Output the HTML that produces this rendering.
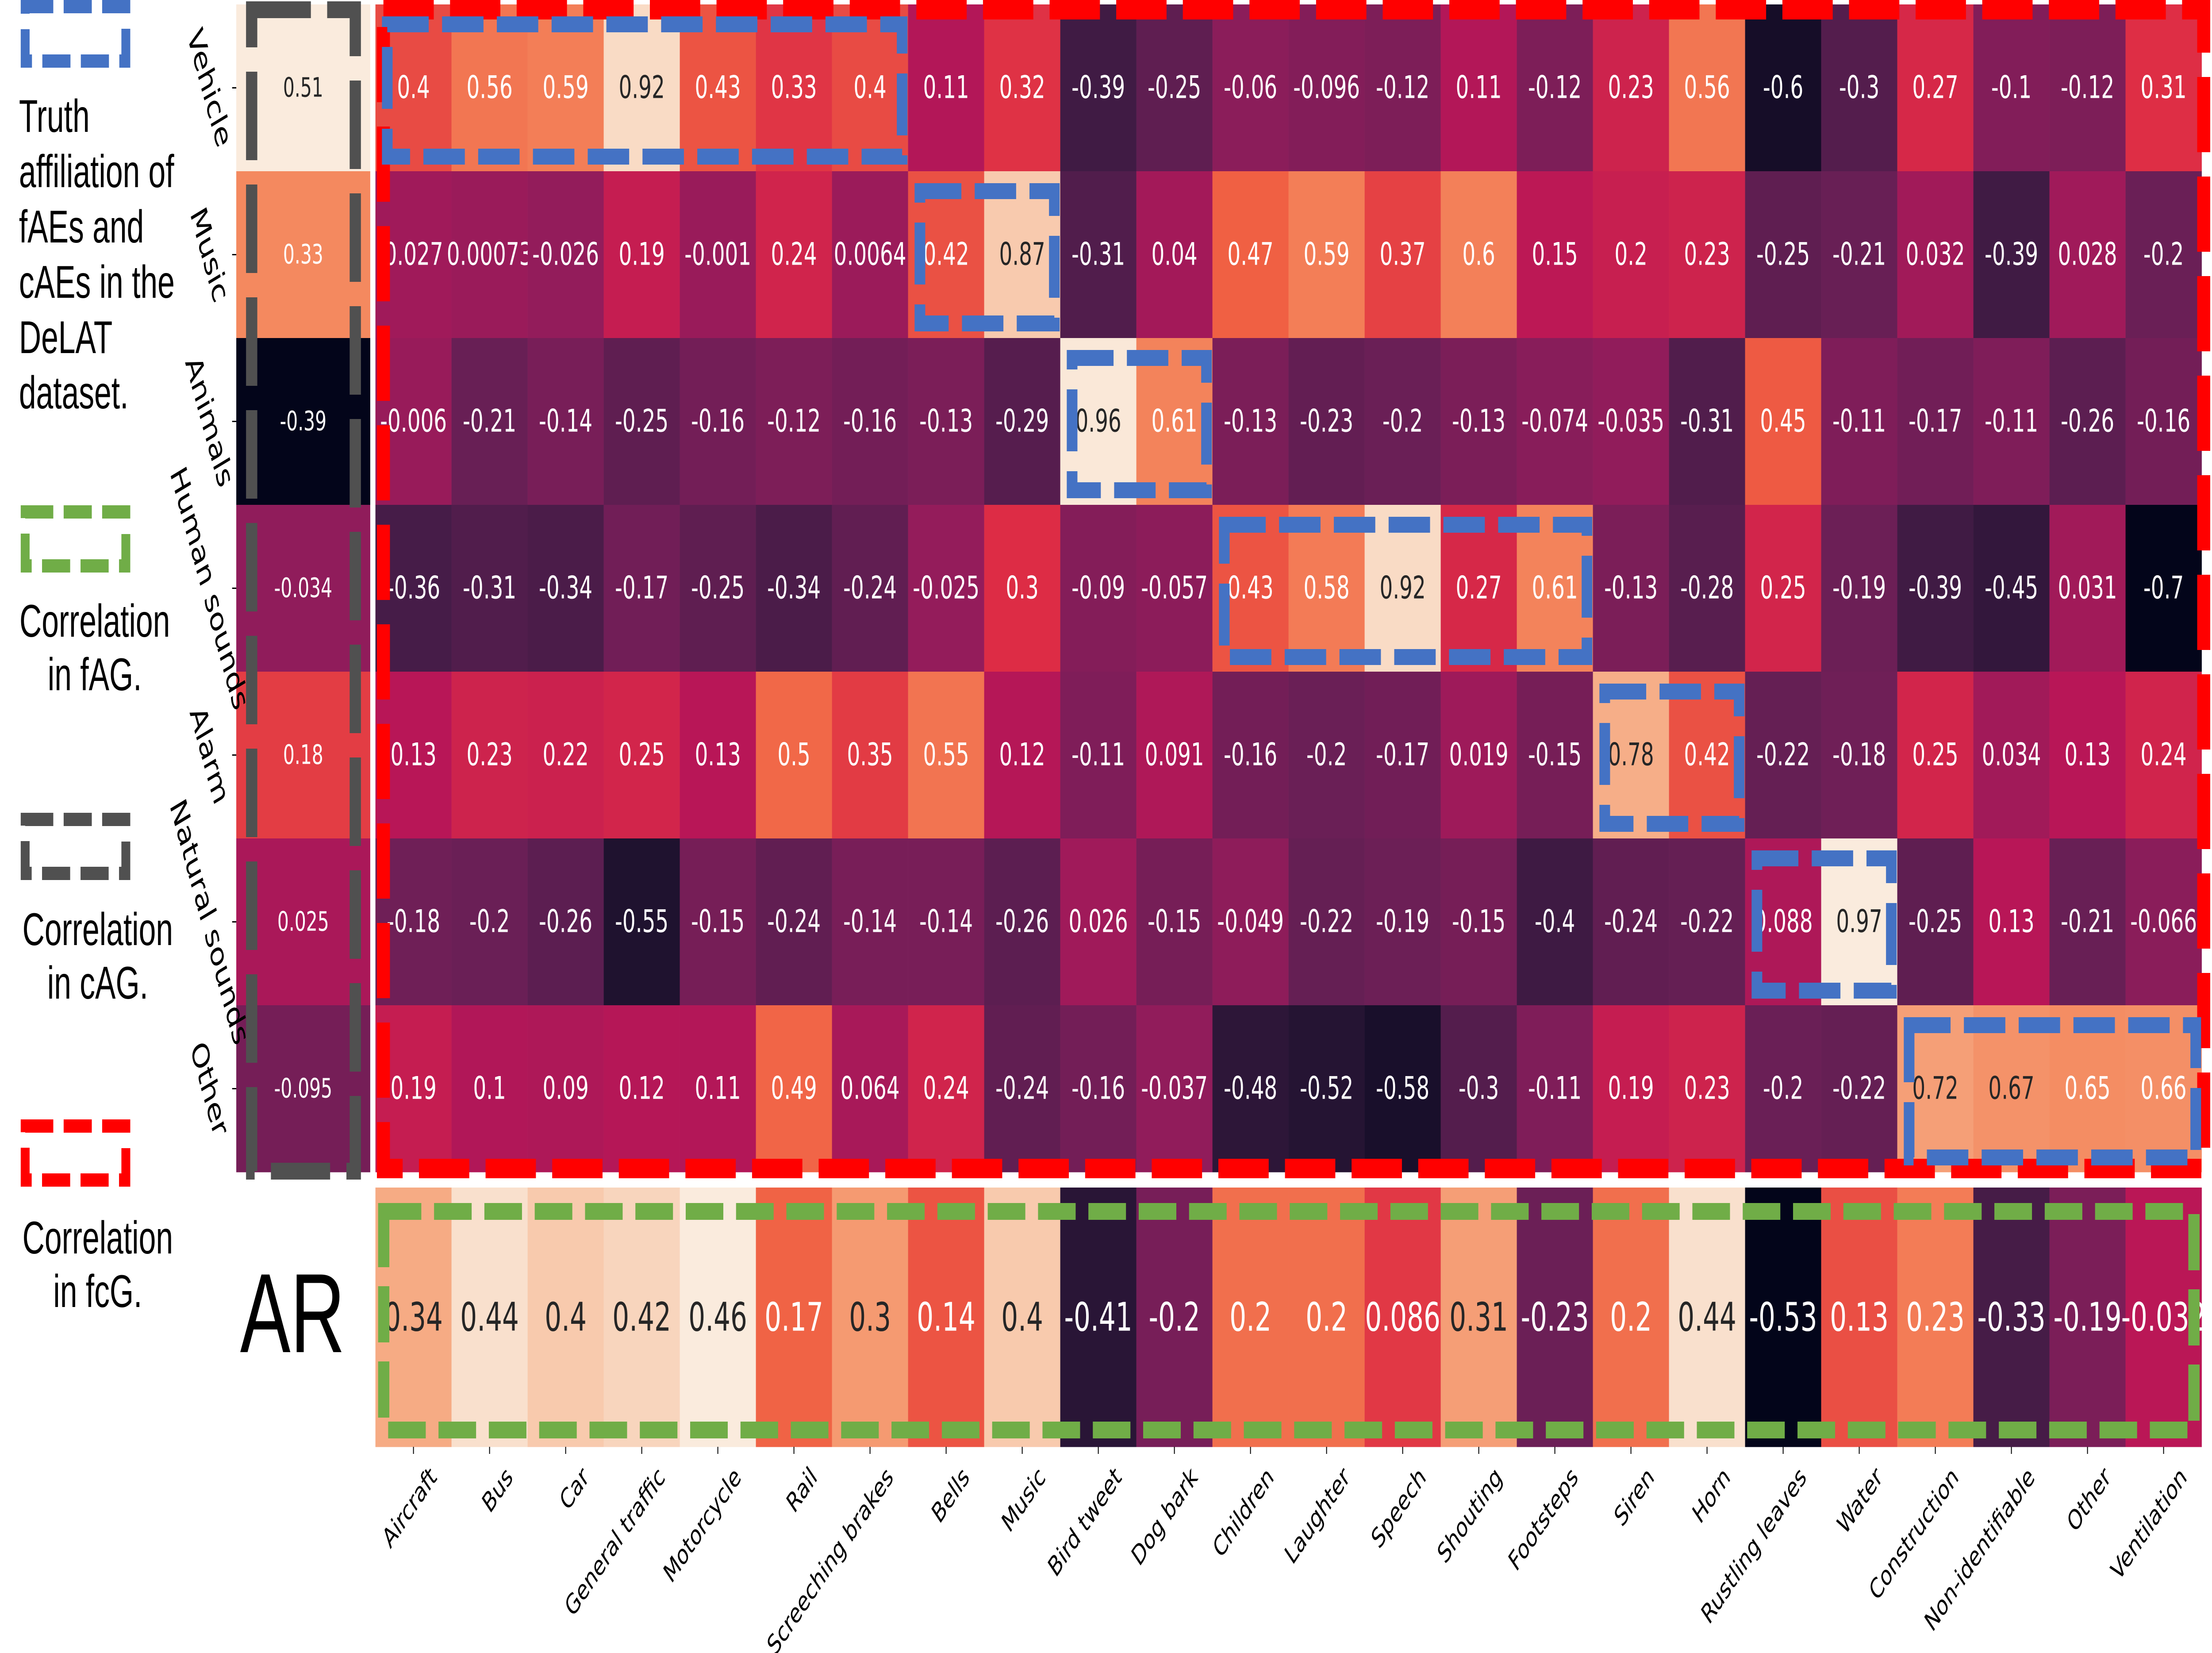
<!DOCTYPE html>
<html><head><meta charset="utf-8"><style>
html,body{margin:0;padding:0;background:#fff;width:100%;height:100%;overflow:hidden;}
svg{display:block;width:100vw;height:100vh;}
</style></head><body>
<svg id="chart" xmlns="http://www.w3.org/2000/svg" viewBox="0 0 7471 3736" preserveAspectRatio="none">
<rect x="0" y="0" width="7471" height="3736" fill="#fff"/>
<g id="cells"></g>
<g id="labels"></g>
<g id="overlays"></g>
<g id="legend" font-family="Liberation Sans, Arial, sans-serif" fill="#000">
  <rect x="85" y="15" width="340" height="123" fill="none" stroke="#4472C4" stroke-width="30" stroke-dasharray="95 35"/>
  <text font-size="104">
    <tspan x="64" y="298">Truth</tspan><tspan x="64" y="423">affiliation of</tspan><tspan x="64" y="548">fAEs and</tspan><tspan x="64" y="673">cAEs in the</tspan><tspan x="64" y="798">DeLAT</tspan><tspan x="64" y="923">dataset.</tspan>
  </text>
  <rect x="85" y="1157" width="340" height="122" fill="none" stroke="#70AD47" stroke-width="30" stroke-dasharray="95 35"/>
  <text font-size="104" text-anchor="middle"><tspan x="320" y="1439">Correlation</tspan><tspan x="320" y="1560">in fAG.</tspan></text>
  <rect x="85" y="1852" width="340" height="122" fill="none" stroke="#505050" stroke-width="30" stroke-dasharray="95 35"/>
  <text font-size="104" text-anchor="middle"><tspan x="330" y="2136">Correlation</tspan><tspan x="330" y="2257">in cAG.</tspan></text>
  <rect x="85" y="2545" width="340" height="122" fill="none" stroke="#FF0000" stroke-width="30" stroke-dasharray="95 35"/>
  <text font-size="104" text-anchor="middle"><tspan x="330" y="2833">Correlation</tspan><tspan x="330" y="2954">in fcG.</tspan></text>
  <text x="811" y="3056" font-size="255">AR</text>
</g>
</svg>
<script>
const rowLabels = ["Vehicle","Music","Animals","Human sounds","Alarm","Natural sounds","Other"];
const colLabels = ["Aircraft","Bus","Car","General traffic","Motorcycle","Rail","Screeching brakes","Bells","Music","Bird tweet","Dog bark","Children","Laughter","Speech","Shouting","Footsteps","Siren","Horn","Rustling leaves","Water","Construction","Non-identifiable","Other","Ventilation"];
const rowVehicle = [0.4,0.56,0.59,0.92,0.43,0.33,0.4,0.11,0.32,-0.39,-0.25,-0.06,-0.096,-0.12,0.11,-0.12,0.23,0.56,-0.6,-0.3,0.27,-0.1,-0.12,0.31];
const rowMusic = [0.027,0.00073,-0.026,0.19,-0.001,0.24,0.0064,0.42,0.87,-0.31,0.04,0.47,0.59,0.37,0.6,0.15,0.2,0.23,-0.25,-0.21,0.032,-0.39,0.028,-0.2];
const rowAnimals = [-0.006,-0.21,-0.14,-0.25,-0.16,-0.12,-0.16,-0.13,-0.29,0.96,0.61,-0.13,-0.23,-0.2,-0.13,-0.074,-0.035,-0.31,0.45,-0.11,-0.17,-0.11,-0.26,-0.16];
const rowHuman = [-0.36,-0.31,-0.34,-0.17,-0.25,-0.34,-0.24,-0.025,0.3,-0.09,-0.057,0.43,0.58,0.92,0.27,0.61,-0.13,-0.28,0.25,-0.19,-0.39,-0.45,0.031,-0.7];
const rowAlarm = [0.13,0.23,0.22,0.25,0.13,0.5,0.35,0.55,0.12,-0.11,0.091,-0.16,-0.2,-0.17,0.019,-0.15,0.78,0.42,-0.22,-0.18,0.25,0.034,0.13,0.24];
const rowNatural = [-0.18,-0.2,-0.26,-0.55,-0.15,-0.24,-0.14,-0.14,-0.26,0.026,-0.15,-0.049,-0.22,-0.19,-0.15,-0.4,-0.24,-0.22,0.088,0.97,-0.25,0.13,-0.21,-0.066];
const rowOther = [0.19,0.1,0.09,0.12,0.11,0.49,0.064,0.24,-0.24,-0.16,-0.037,-0.48,-0.52,-0.58,-0.3,-0.11,0.19,0.23,-0.2,-0.22,0.72,0.67,0.65,0.66];
const cagValues = [0.51,0.33,-0.39,-0.034,0.18,0.025,-0.095];
const arValues = [0.34,0.44,0.4,0.42,0.46,0.17,0.3,0.14,0.4,-0.41,-0.2,0.2,0.2,0.086,0.31,-0.23,0.2,0.44,-0.53,0.13,0.23,-0.33,-0.19,-0.032];
const groupBlocks = [[0,0,6],[1,7,8],[2,9,10],[3,11,15],[4,16,17],[5,18,19],[6,20,23]];

const mainRows = [rowVehicle,rowMusic,rowAnimals,rowHuman,rowAlarm,rowNatural,rowOther];
const NS = "http://www.w3.org/2000/svg";
const X0 = 1268, CW = 257, Y0 = 10, RH = 377;
const CAG_X = 798, CAG_W = 452;
const AR_Y = 2684, AR_H = 586;
function xPos(i){ return X0 + i*CW; }
function yPos(r){ return Y0 + r*RH; }

const stops = ["#03051A","#221331","#451C47","#6A1F56","#921C5B","#B91657","#DD2C45","#F06043","#F4895F","#F6B48E","#FAEBDD"];
function hex2rgb(h){ return [parseInt(h.substr(1,2),16),parseInt(h.substr(3,2),16),parseInt(h.substr(5,2),16)]; }
function rocket(t){
  t = Math.max(0, Math.min(1, t));
  const p = t*(stops.length-1), i = Math.min(Math.floor(p), stops.length-2), f = p - i;
  const a = hex2rgb(stops[i]), b = hex2rgb(stops[i+1]);
  return [0,1,2].map(k => Math.round(a[k] + (b[k]-a[k])*f));
}
function lum(c){
  const v = c.map(x => { x/=255; return x <= 0.03928 ? x/12.92 : Math.pow((x+0.055)/1.055, 2.4); });
  return 0.2126*v[0] + 0.7152*v[1] + 0.0722*v[2];
}
function fmt(v){ return String(v); }
function mk(tag, parent){ const e = document.createElementNS(NS, tag); parent.appendChild(e); return e; }

const cells = document.getElementById("cells");
const labels = document.getElementById("labels");
const overlays = document.getElementById("overlays");

function drawCell(x, y, w, h, v, vmin, vmax, fs, name){
  const c = rocket((v - vmin)/(vmax - vmin));
  const r = mk("rect", cells);
  r.setAttribute("x", x); r.setAttribute("y", y); r.setAttribute("width", w + 0.5); r.setAttribute("height", h + 0.5);
  r.setAttribute("fill", "rgb(" + c.join(",") + ")");
  
  
  const t = mk("text", cells);
  t.setAttribute("x", x + w/2); t.setAttribute("y", y + h/2);
  t.setAttribute("text-anchor", "middle"); t.setAttribute("dominant-baseline", "central");
  t.setAttribute("font-family", "DejaVu Sans, Liberation Sans, sans-serif");
  t.setAttribute("font-size", fs);
  t.setAttribute("fill", lum(c) > 0.408 ? "#262626" : "#ffffff");
  t.textContent = fmt(v);
  
  
}

let all = [].concat(...mainRows);
let mmin = Math.min(...all), mmax = Math.max(...all);
mainRows.forEach((row, r) => {
  row.forEach((v, c) => drawCell(xPos(c), yPos(r), CW, RH, v, mmin, mmax, 70, "cell-r" + r + "-c" + c));
});
let cmin = Math.min(...cagValues), cmax = Math.max(...cagValues);
cagValues.forEach((v, r) => drawCell(CAG_X, yPos(r), CAG_W, RH, v, cmin, cmax, 61, "cag-cell-" + r));
let amin = Math.min(...arValues), amax = Math.max(...arValues);
arValues.forEach((v, c) => drawCell(xPos(c), AR_Y, CW, AR_H, v, amin, amax, 89, "ar-cell-" + c));

rowLabels.forEach((lab, r) => {
  const cy = yPos(r) + RH/2;
  const tk = mk("line", labels);
  tk.setAttribute("x1", 784); tk.setAttribute("x2", 798); tk.setAttribute("y1", cy); tk.setAttribute("y2", cy);
  tk.setAttribute("stroke", "#000"); tk.setAttribute("stroke-width", 3);
  
  
  const t = mk("text", labels);
  t.setAttribute("x", 0); t.setAttribute("y", 0);
  t.setAttribute("transform", "translate(708," + cy + ") rotate(68)");
  t.setAttribute("text-anchor", "middle"); t.setAttribute("dominant-baseline", "central");
  t.setAttribute("font-family", "DejaVu Sans, Liberation Sans, sans-serif");
  t.setAttribute("font-size", 78);
  t.textContent = lab;
  
  
});
colLabels.forEach((lab, c) => {
  const cx = xPos(c) + CW/2;
  const tk = mk("line", labels);
  tk.setAttribute("x1", cx); tk.setAttribute("x2", cx); tk.setAttribute("y1", AR_Y + AR_H); tk.setAttribute("y2", AR_Y + AR_H + 16);
  tk.setAttribute("stroke", "#000"); tk.setAttribute("stroke-width", 3);
  
  
  const t = mk("text", labels);
  t.setAttribute("x", 0); t.setAttribute("y", 0);
  t.setAttribute("transform", "translate(" + (cx + 50) + "," + (AR_H + AR_Y + 40) + ") rotate(-45)");
  t.setAttribute("text-anchor", "end"); t.setAttribute("dominant-baseline", "hanging");
  t.setAttribute("font-family", "DejaVu Sans, Liberation Sans, sans-serif");
  t.setAttribute("font-size", 62);
  t.textContent = lab;
  
  
});

function dashRect(x, y, w, h, color, sw, dash, name){
  const r = mk("rect", overlays);
  r.setAttribute("x", x); r.setAttribute("y", y); r.setAttribute("width", w); r.setAttribute("height", h);
  r.setAttribute("fill", "none"); r.setAttribute("stroke", color); r.setAttribute("stroke-width", sw);
  r.setAttribute("stroke-dasharray", dash);
  
  
}
dashRect(850, 22, 350, 2625, "#505050", 38, "200 55", "cag-dashed-box");
dashRect(1295, 22, 6148, 2619, "#FF0000", 44, "170 55", "fcg-dashed-box");
groupBlocks.forEach(g => {
  const x = xPos(g[1]) + 40, y = yPos(g[0]) + 45;
  const w = (g[2] - g[1] + 1)*CW - 60, h = RH - 78;
  dashRect(x, y, w, h, "#4472C4", 36, "140 45", "truth-group-box");
});
dashRect(1296, 2738, 6114, 494, "#70AD47", 38, "127 43", "fag-dashed-box");
</script>
</body></html>
